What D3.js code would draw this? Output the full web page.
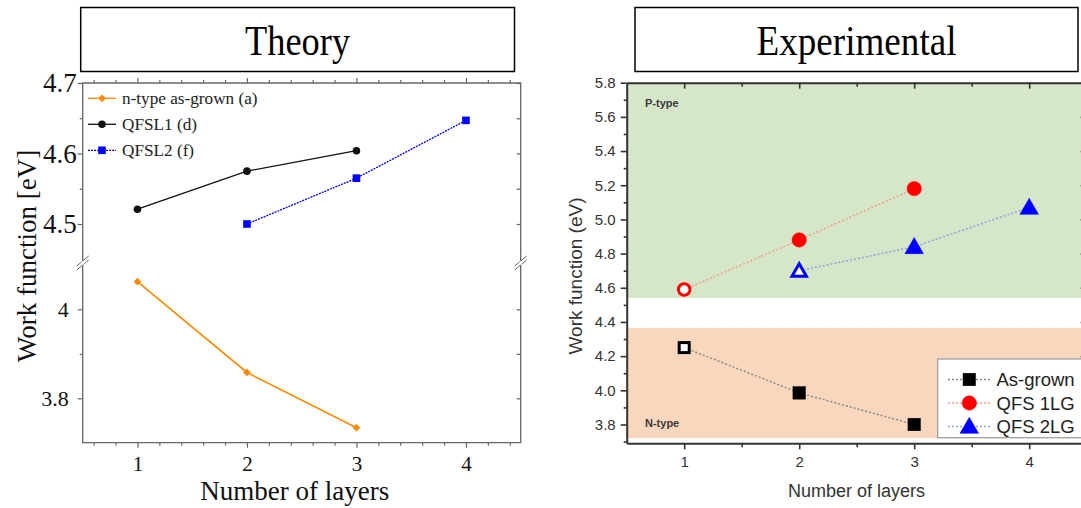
<!DOCTYPE html>
<html>
<head>
<meta charset="utf-8">
<script src="https://cdn.jsdelivr.net/npm/d3@7"></script>
<style>
  body { margin: 0; background: #fff; }
  svg { display: block; }
</style>
</head>
<body>
<div id="chart"></div>
<script>
// ---- data ----
const layers = [1, 2, 3, 4];

// Theory panel
const nTypeX = [1, 2, 3];
const nTypeY = [4.062, 3.858, 3.734];
const qfsl1X = [1, 2, 3];
const qfsl1Y = [4.521, 4.575, 4.604];
const qfsl2X = [2, 3, 4];
const qfsl2Y = [4.500, 4.565, 4.647];
const theoryNames = ["n-type as-grown (a)", "QFSL1 (d)", "QFSL2 (f)"];
const upperTicks = [4.5, 4.6, 4.7];
const upperMinor = [4.55, 4.65];
const lowerTicks = [3.8, 4.0];
const lowerMinor = [3.9];

// Experimental panel
const asGrownX = [1, 2, 3];
const asGrownY = [4.25, 3.985, 3.80];
const qfs1X = [1, 2, 3];
const qfs1Y = [4.59, 4.88, 5.18];
const qfs2X = [2, 3, 4];
const qfs2Y = [4.70, 4.84, 5.07];
const expNames = ["As-grown", "QFS 1LG", "QFS 2LG"];
const expTicks = [3.8, 4.0, 4.2, 4.4, 4.6, 4.8, 5.0, 5.2, 5.4, 5.6, 5.8];
const pBand = [4.54, 5.8];
const nBand = [3.72, 4.365];

const W = 1081, H = 508;
const svg = d3.select("#chart").append("svg")
  .attr("width", W).attr("height", H);

const serif = "'Liberation Serif', 'Times New Roman', serif";
const sans = "'Liberation Sans', Arial, sans-serif";

// title boxes
function titleBox(x0, x1, label, len) {
  svg.append("rect")
    .attr("x", x0).attr("y", 7.5).attr("width", x1 - x0).attr("height", 64)
    .attr("fill", "#fff").attr("stroke", "#000").attr("stroke-width", 1.5);
  svg.append("text")
    .attr("x", (x0 + x1) / 2).attr("y", 55)
    .attr("text-anchor", "middle")
    .attr("font-family", serif).attr("font-size", 42)
    .attr("textLength", len).attr("lengthAdjust", "spacingAndGlyphs")
    .text(label);
}
titleBox(80.7, 514.5, "Theory", 105);
titleBox(635, 1078, "Experimental", 200);

/* ---------------- Theory panel ---------------- */
const L = {left: 82.7, right: 520.7, top: 83, bottom: 442.7, brk: 263};
const axisCol = "#666";

const xL = d3.scaleLinear().domain([0.5, 4.5]).range([L.left, L.right]);
const yUp = d3.scaleLinear().domain([4.5, 4.7]).range([224, 83]);
const yLo = d3.scaleLinear().domain([3.8, 4.0]).range([398.3, 309.3]);

const gL = svg.append("g");

// frame
gL.append("path")
  .attr("d", `M${L.left},${L.top}H${L.right}V${L.bottom}H${L.left}Z`)
  .attr("fill", "none").attr("stroke", axisCol).attr("stroke-width", 1.3);

// bottom axis
const xMinorL = d3.range(0.6, 4.5, 0.2).filter(v => Math.abs(v - Math.round(v)) > 0.01);
gL.append("g")
  .attr("transform", `translate(0,${L.bottom})`)
  .call(d3.axisBottom(xL).tickValues(layers).tickSize(5).tickSizeOuter(0).tickFormat(d3.format("d")))
  .call(g => g.select(".domain").remove())
  .call(g => g.selectAll("text").attr("font-family", serif).attr("font-size", 21).attr("fill", "#111").attr("dy", "0.95em"));
gL.append("g")
  .attr("transform", `translate(0,${L.bottom})`)
  .call(d3.axisBottom(xL).tickValues(xMinorL).tickSize(3).tickFormat(""))
  .call(g => g.select(".domain").remove());

// top axis (ticks outward)
gL.append("g")
  .attr("transform", `translate(0,${L.top})`)
  .call(d3.axisTop(xL).tickValues(layers).tickSize(5).tickFormat(""))
  .call(g => g.select(".domain").remove());
gL.append("g")
  .attr("transform", `translate(0,${L.top})`)
  .call(d3.axisTop(xL).tickValues(xMinorL).tickSize(3).tickFormat(""))
  .call(g => g.select(".domain").remove());

// left axes (two segments)
gL.append("g")
  .attr("transform", `translate(${L.left},0)`)
  .call(d3.axisLeft(yUp).tickValues(upperTicks).tickSize(5).tickFormat(d3.format(".1f")))
  .call(g => g.select(".domain").remove())
  .call(g => g.selectAll("text").attr("font-family", serif).attr("font-size", 27).attr("fill", "#111").attr("x", -6));
gL.append("g")
  .attr("transform", `translate(${L.left},0)`)
  .call(d3.axisLeft(yUp).tickValues(upperMinor).tickSize(3).tickFormat(""))
  .call(g => g.select(".domain").remove());
gL.append("g")
  .attr("transform", `translate(${L.left},0)`)
  .call(d3.axisLeft(yLo).tickValues(lowerTicks).tickSize(5).tickFormat(d => d === 4 ? "4" : d3.format(".1f")(d)))
  .call(g => g.select(".domain").remove())
  .call(g => g.selectAll("text").attr("font-family", serif).attr("font-size", 22).attr("fill", "#111").attr("x", -14));
gL.append("g")
  .attr("transform", `translate(${L.left},0)`)
  .call(d3.axisLeft(yLo).tickValues(lowerMinor).tickSize(3).tickFormat(""))
  .call(g => g.select(".domain").remove());

// right axes (ticks inward)
[[yUp, upperTicks.concat(upperMinor)], [yLo, lowerTicks.concat(lowerMinor)]].forEach(([sc, tv]) => {
  gL.append("g")
    .attr("transform", `translate(${L.right},0)`)
    .call(d3.axisRight(sc).tickValues(tv).tickSize(-4).tickFormat(""))
    .call(g => g.select(".domain").remove());
});
gL.selectAll(".tick line").attr("stroke", axisCol).attr("stroke-width", 1.2);

// axis break marks
[L.left, L.right].forEach(x => {
  [-2, 2].forEach(o => {
    gL.append("line")
      .attr("x1", x - 6).attr("y1", L.brk + o + 5)
      .attr("x2", x + 6).attr("y2", L.brk + o - 5)
      .attr("stroke", axisCol).attr("stroke-width", 1);
  });
  gL.append("line")
    .attr("x1", x - 1).attr("y1", L.brk + 1.5).attr("x2", x + 1).attr("y2", L.brk - 1.5)
    .attr("stroke", "#fff").attr("stroke-width", 3);
});

// series
const orange = "#ff8a00", blue = "#0000ff", black = "#111";
const lineUp = d3.line().x(d => xL(d[0])).y(d => yUp(d[1]));
const lineLo = d3.line().x(d => xL(d[0])).y(d => yLo(d[1]));
const nPts = d3.zip(nTypeX, nTypeY);
const q1Pts = d3.zip(qfsl1X, qfsl1Y);
const q2Pts = d3.zip(qfsl2X, qfsl2Y);

gL.append("path").attr("d", lineLo(nPts)).attr("fill", "none").attr("stroke", orange).attr("stroke-width", 1.6);
gL.append("path").attr("d", lineUp(q1Pts)).attr("fill", "none").attr("stroke", black).attr("stroke-width", 1.3);
gL.append("path").attr("d", lineUp(q2Pts)).attr("fill", "none").attr("stroke", blue).attr("stroke-width", 1.3).attr("stroke-dasharray", "2,1");

// orange marker: square turned 45 degrees
const diamond = d3.symbol().type(d3.symbolSquare).size(30);
gL.selectAll(".nt").data(nPts).join("path")
  .attr("transform", d => `translate(${xL(d[0])},${yLo(d[1])}) rotate(45)`)
  .attr("d", diamond).attr("fill", orange);
gL.selectAll(".q1").data(q1Pts).join("circle")
  .attr("cx", d => xL(d[0])).attr("cy", d => yUp(d[1])).attr("r", 3.8).attr("fill", black);
gL.selectAll(".q2").data(q2Pts).join("rect")
  .attr("x", d => xL(d[0]) - 3.8).attr("y", d => yUp(d[1]) - 3.8)
  .attr("width", 7.6).attr("height", 7.6).attr("fill", blue);

// legend
const legL = gL.append("g");
theoryNames.forEach((name, i) => {
  const y = 98.3 + i * 26;
  const row = legL.append("g");
  const ln = row.append("line").attr("x1", 88).attr("x2", 116).attr("y1", y).attr("y2", y).attr("stroke-width", 1.3);
  if (i === 0) {
    ln.attr("stroke", orange);
    row.append("path").attr("transform", `translate(102,${y}) rotate(45)`).attr("d", diamond).attr("fill", orange);
  } else if (i === 1) {
    ln.attr("stroke", black);
    row.append("circle").attr("cx", 102).attr("cy", y).attr("r", 3.8).attr("fill", black);
  } else {
    ln.attr("stroke", blue).attr("stroke-dasharray", "2,1");
    row.append("rect").attr("x", 98.2).attr("y", y - 3.8).attr("width", 7.6).attr("height", 7.6).attr("fill", blue);
  }
  row.append("text").attr("x", 122).attr("y", y + 5.5)
    .attr("font-family", serif).attr("font-size", 17.2).attr("fill", "#222").text(name);
});

// axis titles
svg.append("text")
  .attr("transform", `translate(36,256) rotate(-90)`)
  .attr("text-anchor", "middle")
  .attr("font-family", serif).attr("font-size", 27).attr("fill", "#111")
  .text("Work function [eV]");
svg.append("text")
  .attr("x", (L.left + L.right) / 2 - 7).attr("y", 500)
  .attr("text-anchor", "middle")
  .attr("font-family", serif).attr("font-size", 27).attr("fill", "#111")
  .text("Number of layers");

/* ---------------- Experimental panel ---------------- */
const R = {left: 626.7, right: 1086.7, top: 82.7, bottom: 443.3};
const xR = d3.scaleLinear().domain([0.5, 4.5]).range([R.left, R.right]);
const yR = d3.scaleLinear().domain([3.69, 5.8]).range([R.bottom, R.top]);
const gR = svg.append("g");
const dark = "#333";

// shaded bands
gR.append("rect")
  .attr("x", R.left).attr("width", R.right - R.left)
  .attr("y", yR(pBand[1])).attr("height", yR(pBand[0]) - yR(pBand[1]))
  .attr("fill", "#d6e6c9");
gR.append("rect")
  .attr("x", R.left).attr("width", R.right - R.left)
  .attr("y", yR(nBand[1])).attr("height", yR(nBand[0]) - yR(nBand[1]))
  .attr("fill", "#f9d7bf");
gR.append("text").attr("x", 645).attr("y", 107)
  .attr("font-family", sans).attr("font-size", 11).attr("font-weight", 600).attr("fill", "#3a3a3a").text("P-type");
gR.append("text").attr("x", 645).attr("y", 427)
  .attr("font-family", sans).attr("font-size", 11).attr("font-weight", 600).attr("fill", "#3a3a3a").text("N-type");

// axes
const yMinorR = d3.range(37, 58).map(v => v / 10).filter(v => !expTicks.some(t => Math.abs(t - v) < 1e-6));
const xMinorR = [1.5, 2.5, 3.5];
gR.append("g").attr("transform", `translate(${R.left},0)`)
  .call(d3.axisLeft(yR).tickValues(expTicks).tickSize(6).tickSizeOuter(0).tickFormat(d3.format(".1f")))
  .call(g => g.selectAll("text").attr("font-family", sans).attr("font-size", 15).attr("fill", dark).attr("x", -11));
gR.append("g").attr("transform", `translate(${R.left},0)`)
  .call(d3.axisLeft(yR).tickValues(yMinorR).tickSize(3).tickFormat(""))
  .call(g => g.select(".domain").remove());
gR.append("g").attr("transform", `translate(${R.right},0)`)
  .call(d3.axisRight(yR).tickValues(expTicks).tickSize(-6).tickFormat(""))
  .call(g => g.select(".domain").remove());
gR.append("g").attr("transform", `translate(0,${R.bottom})`)
  .call(d3.axisBottom(xR).tickValues(layers).tickSize(6).tickSizeOuter(0).tickFormat(d3.format("d")))
  .call(g => g.selectAll("text").attr("font-family", sans).attr("font-size", 15).attr("fill", dark).attr("dy", "0.95em"));
gR.append("g").attr("transform", `translate(0,${R.bottom})`)
  .call(d3.axisBottom(xR).tickValues(xMinorR).tickSize(4).tickFormat(""))
  .call(g => g.select(".domain").remove());
gR.append("g").attr("transform", `translate(0,${R.top})`)
  .call(d3.axisTop(xR).tickValues(layers).tickSize(-6).tickSizeOuter(0).tickFormat(""));
gR.append("g").attr("transform", `translate(0,${R.top})`)
  .call(d3.axisTop(xR).tickValues(xMinorR).tickSize(-4).tickFormat(""))
  .call(g => g.select(".domain").remove());
gR.selectAll(".domain").attr("stroke", dark).attr("stroke-width", 2);
gR.selectAll(".tick line").attr("stroke", dark).attr("stroke-width", 1.6);

// series; the first point of each series is drawn open
const expSeries = [
  {pts: d3.zip(asGrownX, asGrownY), col: "#000", lineCol: "#8a8a8a", shape: "square"},
  {pts: d3.zip(qfs1X, qfs1Y), col: "#ff0000", lineCol: "#f0a08a", shape: "circle"},
  {pts: d3.zip(qfs2X, qfs2Y), col: "#0000ff", lineCol: "#8ea4dc", shape: "triangle"}
];
const lineR = d3.line().x(d => xR(d[0])).y(d => yR(d[1]));
function marker(g, shape, col, x, y, open) {
  const fill = open ? "#fff" : col;
  const sw = open ? 3 : 0.5;
  if (shape === "square") {
    const s = open ? 10 : 12.5;
    g.append("rect").attr("x", x - s / 2).attr("y", y - s / 2).attr("width", s).attr("height", s)
      .attr("fill", fill).attr("stroke", col).attr("stroke-width", sw);
  } else if (shape === "circle") {
    g.append("circle").attr("cx", x).attr("cy", y).attr("r", open ? 5.8 : 7.2)
      .attr("fill", fill).attr("stroke", col).attr("stroke-width", sw);
  } else {
    const sz = open ? 90 : 150;
    g.append("path").attr("transform", `translate(${x},${y + 1.5})`)
      .attr("d", d3.symbol().type(d3.symbolTriangle).size(sz))
      .attr("fill", fill).attr("stroke", col).attr("stroke-width", sw);
  }
}
expSeries.forEach(s => {
  gR.append("path").attr("d", lineR(s.pts)).attr("fill", "none")
    .attr("stroke", s.lineCol).attr("stroke-width", 1.5).attr("stroke-dasharray", "2,2");
  s.pts.forEach((p, i) => marker(gR, s.shape, s.col, xR(p[0]), yR(p[1]), i === 0));
});

// legend
const legR = gR.append("g");
legR.append("rect").attr("x", 937.7).attr("y", 359).attr("width", 150).attr("height", 78.7)
  .attr("fill", "#fff").attr("stroke", "#999").attr("stroke-width", 1.2);
expSeries.forEach((s, i) => {
  const y = 379.5 + i * 23.5;
  legR.append("line").attr("x1", 948).attr("x2", 990).attr("y1", y).attr("y2", y)
    .attr("stroke", s.lineCol).attr("stroke-width", 1.3).attr("stroke-dasharray", "2,2");
  marker(legR, s.shape, s.col, 969.3, y, false);
  legR.append("text").attr("x", 996.5).attr("y", y + 6.5)
    .attr("font-family", sans).attr("font-size", 18.5).attr("fill", "#222").text(expNames[i]);
});

// axis titles
svg.append("text")
  .attr("transform", `translate(582,276) rotate(-90)`)
  .attr("text-anchor", "middle")
  .attr("font-family", sans).attr("font-size", 19).attr("fill", dark)
  .text("Work function (eV)");
svg.append("text")
  .attr("x", 856.5).attr("y", 497)
  .attr("text-anchor", "middle")
  .attr("font-family", sans).attr("font-size", 18).attr("fill", dark)
  .text("Number of layers");
</script>
</body>
</html>
